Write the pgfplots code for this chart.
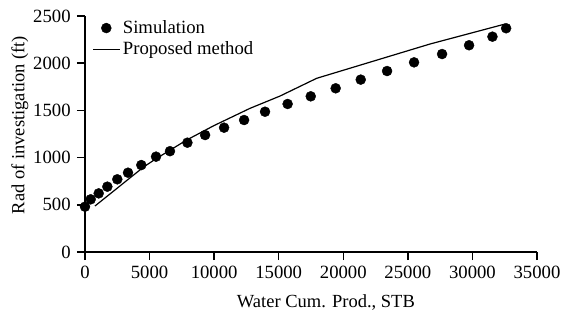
\documentclass[border=0pt]{standalone}
\usepackage{fontspec}
\setmainfont{Liberation Serif}
\usepackage{pgfplots}
\pgfplotsset{compat=1.18}
\begin{document}
\fontsize{18.5bp}{22bp}\selectfont
\begin{tikzpicture}
\begin{axis}[
  scale only axis, width=452bp, height=236bp,
  xmin=0, xmax=35000, ymin=0, ymax=2500,
  axis lines*=left,
  axis line style={line width=1.5bp, black},
  tick align=outside, major tick length=8bp,
  tick style={line width=1.5bp, black},
  xtick={0,5000,...,35000}, ytick={0,500,...,2500},
  scaled x ticks=false, scaled y ticks=false,
  /pgf/number format/assume math mode=true,
  /pgf/number format/1000 sep={},
  tick label style={font=\fontsize{18.7bp}{22bp}\selectfont},
  label style={font=\fontsize{18.7bp}{22bp}\selectfont},
  xlabel={Water Cum. Prod., STB},
  ylabel={Rad of investigation (ft)},
  every axis x label/.style={at={(axis description cs:0.533,-0.212)}, anchor=center},
  every axis y label/.style={at={(axis description cs:-0.144,0.538)}, anchor=center, rotate=90},
  clip=false,
  legend style={at={(0.01,1.0)}, anchor=north west, draw=none, fill=none,
    font=\fontsize{18.7bp}{22bp}\selectfont, row sep=1.5bp},
  legend cell align=left,
]
\addplot[only marks, mark=*, mark size=5bp, black,
  legend image code/.code={\fill[black] (13bp,0) circle (5bp);}]
coordinates {
(0,480) (440,558) (1060,621) (1730,692) (2500,770) (3330,840) (4360,921)
(5500,1010) (6580,1068) (7930,1158) (9300,1239) (10770,1317) (12320,1398)
(13940,1486) (15690,1568) (17480,1649) (19410,1734) (21350,1826) (23390,1917)
(25480,2009) (27650,2097) (29740,2190) (31550,2281) (32610,2370)
};
\addlegendentry{Simulation}
\addplot[black, line width=1.2bp,
  legend image code/.code={\draw[black, line width=1.2bp] (0bp,0) -- (27bp,0);}]
coordinates {
(770,487) (4570,904) (5550,992) (7870,1186) (10000,1340) (12780,1522)
(15100,1652) (17940,1840) (26710,2203) (32530,2415)
};
\addlegendentry{Proposed method}
\end{axis}
\pgfresetboundingbox
\path (current axis.south west) ++(-85bp,-64bp) coordinate (bbsw);
\path (current axis.north east) ++(26bp,16bp) coordinate (bbne);
\path (bbsw) rectangle (bbne);
\end{tikzpicture}
\end{document}
